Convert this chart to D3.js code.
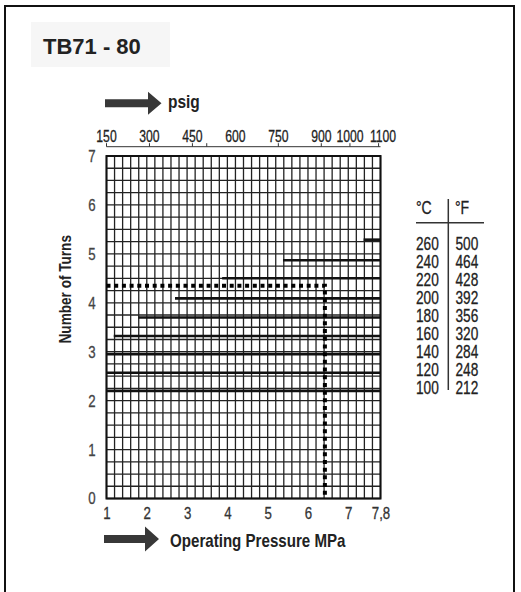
<!DOCTYPE html>
<html><head><meta charset="utf-8">
<script src="https://cdn.jsdelivr.net/npm/d3@7"></script>
<style>body{margin:0;background:#fff}svg{display:block}</style>
</head><body>
<svg id="c" width="521" height="592"></svg>
<script>
// ---- data ----
const title = "TB71 - 80";
const tempC = [260, 240, 220, 200, 180, 160, 140, 120, 100];
const tempF = [500, 464, 428, 392, 356, 320, 284, 248, 212];
const lineTurns = [5.29, 4.87, 4.5, 4.09, 3.7, 3.32, 2.95, 2.57, 2.2];
const lineStartMPa = [7.38, 5.38, 3.87, 2.7, 1.79, 1.18, 1.0, 1.0, 1.0];
const mpaTicks = [1, 2, 3, 4, 5, 6, 7, 7.8];
const mpaTickLabels = ["1", "2", "3", "4", "5", "6", "7", "7,8"];
const psigLabels = [150, 300, 450, 600, 750, 900, 1000, 1100];
const psigTickMarks = [150, 300, 450, 500, 750, 900, 1000, 1100];
const turnTicks = [0, 1, 2, 3, 4, 5, 6, 7];
const exampleMPa = [1.0, 6.42, 6.42];
const exampleTurns = [4.35, 4.35, 0];

const FONT = "'Liberation Sans',Arial,sans-serif";
const SQ = 0.78; // horizontal squeeze to imitate a condensed face
const svg = d3.select("#c");

// outer frame
svg.append("rect").attr("x", 5).attr("y", 6).attr("width", 509).attr("height", 600)
  .attr("fill", "none").attr("stroke", "#111").attr("stroke-width", 2);

// title
svg.append("rect").attr("x", 31).attr("y", 22).attr("width", 139).attr("height", 45).attr("fill", "#f6f6f6");
svg.append("text").attr("x", 43).attr("y", 54).text(title)
  .attr("font-family", FONT).attr("font-weight", "bold")
  .attr("font-size", 22).attr("fill", "#222");

// scales
const x = d3.scaleLinear().domain([1, 7.8]).range([106.5, 380.5]);
const y = d3.scaleLinear().domain([0, 7]).range([498.5, 156]);
const psig = d3.scaleLinear().domain([150, 1100]).range([x(1) - 0.5, x(7.74)]);

// grid
const g = svg.append("g");
const vx = d3.range(0, 35).map(i => 1 + i * 0.2);
const hy = d3.range(0, 29).map(i => i * 0.25);
g.selectAll(".vg").data(vx).join("line")
  .attr("x1", d => x(d)).attr("x2", d => x(d)).attr("y1", y(0)).attr("y2", y(7))
  .attr("stroke", "#222").attr("stroke-width", 1.3);
g.selectAll(".hg").data(hy).join("line")
  .attr("y1", d => y(d)).attr("y2", d => y(d)).attr("x1", x(1)).attr("x2", x(7.8))
  .attr("stroke", "#222").attr("stroke-width", 1.3);
g.append("rect").attr("x", x(1)).attr("y", y(7)).attr("width", x(7.8) - x(1)).attr("height", y(0) - y(7))
  .attr("fill", "none").attr("stroke", "#111").attr("stroke-width", 2);

// temperature lines
g.selectAll(".tl").data(lineTurns).join("line")
  .attr("x1", (d, i) => x(lineStartMPa[i])).attr("x2", x(7.8))
  .attr("y1", d => y(d)).attr("y2", d => y(d))
  .attr("stroke", "#111").attr("stroke-width", 2.6);

// example dotted path
const pts = exampleMPa.map((m, i) => [x(m), y(exampleTurns[i])]);
g.append("path").attr("d", d3.line()(pts)).attr("fill", "none")
  .attr("stroke", "#000").attr("stroke-width", 4).attr("stroke-dasharray", "4,3.7");

// axes
const bottom = svg.append("g").attr("transform", `translate(0,${y(0)})`)
  .call(d3.axisBottom(x).tickValues(mpaTicks).tickFormat((d, i) => mpaTickLabels[i]).tickSize(0).tickPadding(8));
bottom.select(".domain").remove();
bottom.selectAll("text").attr("font-family", FONT).attr("font-size", 17).attr("fill", "#333")
  .attr("stroke", "#333").attr("stroke-width", 0.3)
  .attr("transform", `scale(${SQ},1)`);

const left = svg.append("g").attr("transform", `translate(${x(1)},0)`)
  .call(d3.axisLeft(y).tickValues(turnTicks).tickFormat(d3.format("d")).tickSize(0).tickPadding(14));
left.select(".domain").remove();
left.selectAll("text").attr("font-family", FONT).attr("font-size", 17).attr("fill", "#444")
  .attr("stroke", "#444").attr("stroke-width", 0.3)
  .attr("transform", `scale(${SQ},1)`);

// top psig axis: tick marks
const topTicks = svg.append("g").attr("transform", "translate(0,146.7)")
  .call(d3.axisTop(psig).tickValues(psigTickMarks).tickSize(3.5).tickFormat(""));
topTicks.select(".domain").remove();
topTicks.selectAll("line").attr("stroke", "#333");
// top psig axis: labels
const topLab = svg.append("g").attr("transform", "translate(0,146.7)")
  .call(d3.axisTop(psig).tickValues(psigLabels).tickFormat(d3.format("d")).tickSize(0).tickPadding(5));
topLab.select(".domain").remove();
topLab.selectAll("text").attr("font-family", FONT).attr("font-size", 16.5).attr("fill", "#222")
  .attr("stroke", "#222").attr("stroke-width", 0.3)
  .attr("transform", `scale(${SQ - 0.04},1)`)
  .attr("dx", (d, i) => i === psigLabels.length - 1 ? 6 : 0);
svg.append("line").attr("x1", x(1)).attr("x2", x(7.8)).attr("y1", 146.7).attr("y2", 146.7)
  .attr("stroke", "#333").attr("stroke-width", 1);

// axis titles
svg.append("text").attr("transform", `translate(71,${(y(0) + y(7)) / 2 - 38}) rotate(-90) scale(0.85,1)`)
  .attr("text-anchor", "middle").text("Number of Turns")
  .attr("font-family", FONT).attr("font-weight", "bold").attr("font-size", 16).attr("fill", "#222");
svg.append("text").attr("transform", "translate(170,546.5) scale(0.84,1)").text("Operating Pressure MPa")
  .attr("font-family", FONT).attr("font-weight", "bold").attr("font-size", 18).attr("fill", "#222");
svg.append("text").attr("transform", "translate(168,108) scale(0.86,1)").text("psig")
  .attr("font-family", FONT).attr("font-weight", "bold").attr("font-size", 18).attr("fill", "#222");

// arrows
function arrow(x0, x1, xh, yc, bh, hh) {
  return `M${x0},${yc - bh / 2}L${xh},${yc - bh / 2}L${xh},${yc - hh / 2}L${x1},${yc}L${xh},${yc + hh / 2}L${xh},${yc + bh / 2}L${x0},${yc + bh / 2}Z`;
}
svg.append("path").attr("d", arrow(105, 161.5, 148, 103.3, 8, 23)).attr("fill", "#383838");
svg.append("path").attr("d", arrow(104, 159, 145, 539, 8, 25)).attr("fill", "#383838");

// legend table
const lg = svg.append("g").attr("font-family", FONT).attr("font-size", 18).attr("fill", "#222")
  .attr("stroke", "#222").attr("stroke-width", 0.3);
lg.append("text").attr("transform", "translate(416,214) scale(0.78,1)").text("°C");
lg.append("text").attr("transform", "translate(455,214) scale(0.78,1)").text("°F");
lg.append("line").attr("x1", 416).attr("x2", 484).attr("y1", 222.7).attr("y2", 222.7).attr("stroke", "#333").attr("stroke-width", 1.5);
lg.append("line").attr("x1", 448.3).attr("x2", 448.3).attr("y1", 199).attr("y2", 390).attr("stroke", "#333").attr("stroke-width", 1.5);
lg.selectAll(".c").data(tempC).join("text")
  .attr("transform", (d, i) => `translate(416,${249.5 + i * 18.1}) scale(0.76,1)`).text(d => d);
lg.selectAll(".f").data(tempF).join("text")
  .attr("transform", (d, i) => `translate(455.5,${249.5 + i * 18.1}) scale(0.76,1)`).text(d => d);
</script></body></html>
